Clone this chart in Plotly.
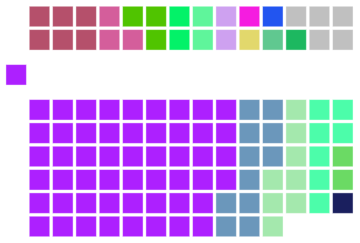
import plotly.graph_objects as go

# Top block (2 rows x 14 columns)
top_parties = ["A", "B", "C", "D", "E", "F", "G", "H", "I", "J", "K", "L"]
top_seats = [6, 3, 3, 2, 2, 2, 1, 1, 1, 1, 1, 5]
top_colors = ["#b5506b", "#d45e9b", "#50c400", "#03f268", "#5ff59b", "#cea1f0",
              "#e2d86c", "#f51ce0", "#60c890", "#2255f0", "#1db860", "#c0c0c0"]

# Speaker / middle seat
mid_parties = ["S"]
mid_seats = [1]
mid_colors = ["#ad20ff"]

# Bottom block (6 rows x 14 columns, last row partial)
bot_parties = ["P", "Q", "R", "T", "U", "V"]
bot_seats = [52, 11, 8, 7, 2, 1]
bot_colors = ["#ad20ff", "#6b97bb", "#a4e8ad", "#4cfdaa", "#6bda64", "#1a1f5e"]

NCOLS = 14


def top_positions(n):
    pos = []
    for c in range(NCOLS):
        for r in (1, 0):  # fill from the row nearest the middle
            pos.append((c, r))
    return pos[:n]


def bottom_positions(n):
    full_rows = n // NCOLS
    rem = n % NCOLS
    nrows = full_rows + (1 if rem else 0)
    pos = []
    for c in range(NCOLS):
        for r in range(nrows):
            if r == nrows - 1 and rem and c >= rem:
                continue
            pos.append((c, 4 + r))
    return pos


fig = go.Figure()


def add_block(parties, seats, colors, positions):
    i = 0
    for p, s, col in zip(parties, seats, colors):
        pts = positions[i:i + s]
        i += s
        fig.add_trace(go.Scatter(
            x=[q[0] for q in pts], y=[q[1] for q in pts], mode="markers",
            name=p, showlegend=False, hoverinfo="name",
            marker=dict(symbol="square", size=20.5, color=col,
                        line=dict(color="rgba(255,255,255,0.45)", width=1)),
        ))


add_block(top_parties, top_seats, top_colors, top_positions(sum(top_seats)))
add_block(mid_parties, mid_seats, mid_colors, [(-1, 2.5)])
add_block(bot_parties, bot_seats, bot_colors, bottom_positions(sum(bot_seats)))

pitch = 23.33
fig.update_layout(
    width=360, height=243,
    margin=dict(l=0, r=0, t=0, b=0),
    paper_bgcolor="white", plot_bgcolor="white",
    xaxis=dict(range=[-39.5 / pitch, (360 - 39.5) / pitch], visible=False, fixedrange=True),
    yaxis=dict(range=[(243 - 16.5) / pitch, -16.5 / pitch], visible=False, fixedrange=True),
)

fig.write_html("out.html")
